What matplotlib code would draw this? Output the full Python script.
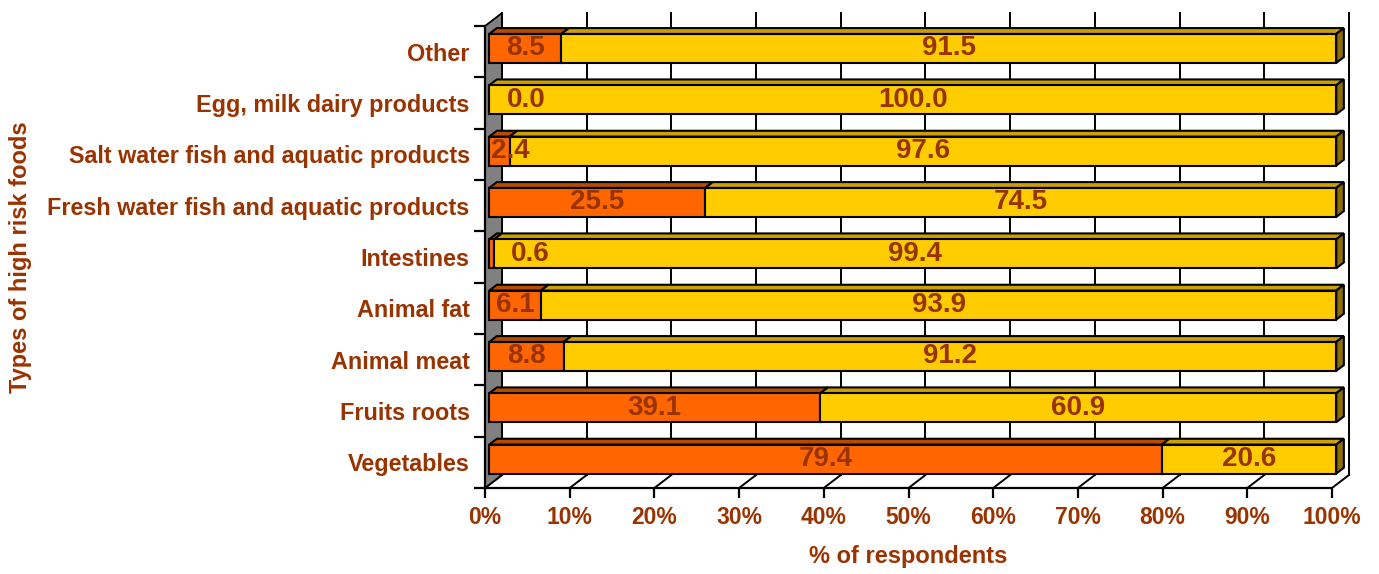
import numpy as np
import matplotlib
matplotlib.use("Agg")
import matplotlib.pyplot as plt
from matplotlib.patches import Polygon

# ---- data (bottom row first) ----
categories = ["Vegetables", "Fruits roots", "Animal meat", "Animal fat",
              "Intestines", "Fresh water fish and aquatic products",
              "Salt water fish and aquatic products", "Egg, milk dairy products",
              "Other"]
pct_yes = [79.4, 39.1, 8.8, 6.1, 0.6, 25.5, 2.4, 0.0, 8.5]
pct_no = [20.6, 60.9, 91.2, 93.9, 99.4, 74.5, 97.6, 100.0, 91.5]
x_ticks = list(range(0, 101, 10))
x_tick_labels = [f"{t}%" for t in x_ticks]

# ---- style ----
TXT = "#993300"
ORANGE = "#FF6600"
YELLOW = "#FFCC00"
TOP_COL = {ORANGE: "#B84A00", YELLOW: "#CCA000"}
SIDE_COL = {ORANGE: "#8F3A00", YELLOW: "#8A6E00"}
FONT = "Liberation Sans"

# 3d depth, in data units (~17px right, ~13px up)
DX = 2.0
DY = 0.253
F0, F1 = 0.25, 0.70   # bar front / back as fraction of depth
BAR_H = 0.565
LW = 1.5

# label nudges for tiny segments (row, segment) -> dx in %
label_nudge = {(7, 0): 4.4, (6, 0): 1.3, (4, 0): 4.5}

fig = plt.figure(figsize=(13.79, 5.74), dpi=100)
ax = fig.add_axes([485 / 1379, (574 - 488) / 574, 875 / 1379, 480 / 574])
ax.set_xlim(0, 875 / 8.47)
ax.set_ylim(-0.5, -0.5 + 480 / 51.33)
ax.set_facecolor("none")

ypos = np.arange(len(categories))
y_lo, y_hi = -0.5, len(categories) - 0.5

# floor diagonals + back wall gridlines
for t in x_ticks:
    ax.plot([t, t + DX], [y_lo, y_lo + DY], color="black", lw=1.4, zorder=1)
    ax.plot([t + DX, t + DX], [y_lo + DY, y_hi + DY], color="black", lw=1.4, zorder=1)

# left wall
wall = Polygon([(0, y_lo), (DX, y_lo + DY), (DX, y_hi + DY), (0, y_hi)],
               closed=True, facecolor="#808080", edgecolor="black", lw=1.3, zorder=2)
ax.add_patch(wall)

# bars
fx = F0 * DX
fy = F0 * DY
ddx = (F1 - F0) * DX
ddy = (F1 - F0) * DY
lefts = [np.zeros(len(categories)), np.array(pct_yes)]
series = [(np.array(pct_yes), ORANGE), (np.array(pct_no), YELLOW)]

for s, (vals, col) in enumerate(series):
    left = lefts[s]
    ax.barh(ypos + fy, vals, left=left + fx, height=BAR_H, color=col,
            edgecolor="black", lw=LW, zorder=4)
    for i, v in enumerate(vals):
        if v <= 0:
            continue
        x0 = left[i] + fx
        x1 = x0 + v
        yt = ypos[i] + fy + BAR_H / 2
        yb = ypos[i] + fy - BAR_H / 2
        top = Polygon([(x0, yt), (x1, yt), (x1 + ddx, yt + ddy), (x0 + ddx, yt + ddy)],
                      closed=True, facecolor=TOP_COL[col], edgecolor="black", lw=LW, zorder=3)
        ax.add_patch(top)
        if s == len(series) - 1:
            side = Polygon([(x1, yb), (x1 + ddx, yb + ddy), (x1 + ddx, yt + ddy), (x1, yt)],
                           closed=True, facecolor=SIDE_COL[col], edgecolor="black", lw=LW, zorder=3)
            ax.add_patch(side)

# value labels
for s, (vals, col) in enumerate(series):
    for i, v in enumerate(vals):
        xc = lefts[s][i] + v / 2 + fx + label_nudge.get((i, s), 0)
        ax.text(xc, ypos[i] + fy, f"{v:.1f}", ha="center", va="center",
                color=TXT, fontsize=20, fontweight="bold", family=FONT, zorder=6)

# axes
for sp in ["top", "right"]:
    ax.spines[sp].set_visible(False)
ax.spines["left"].set_position(("data", 0))
ax.spines["bottom"].set_position(("data", y_lo))
ax.spines["left"].set_bounds(y_lo, y_hi)
ax.spines["bottom"].set_bounds(0, 100)
for sp in ["left", "bottom"]:
    ax.spines[sp].set_linewidth(1.6)
    ax.spines[sp].set_zorder(5)

ax.set_xticks(x_ticks)
ax.set_xticklabels(x_tick_labels)
ax.tick_params(axis="x", length=7, width=1.6, pad=6, labelsize=16.5, labelcolor=TXT)

ax.set_yticks(ypos)
ax.set_yticklabels(categories)
ax.set_yticks(np.arange(y_lo, y_hi + 0.01, 1.0), minor=True)
ax.tick_params(axis="y", which="major", length=0, pad=11, labelsize=16.8, labelcolor=TXT)
ax.tick_params(axis="y", which="minor", length=8, width=1.6)

for lab in ax.get_xticklabels() + ax.get_yticklabels():
    lab.set_fontweight("bold")
    lab.set_family(FONT)

ax.set_xlabel("% of respondents", color=TXT, fontsize=17, fontweight="bold", family=FONT)
ax.xaxis.set_label_coords(50 / (875 / 8.47), -0.118)
ax.set_ylabel("Types of high risk foods", color=TXT, fontsize=17, fontweight="bold", family=FONT)
ax.yaxis.set_label_coords((32 - 485) / 875, 0.481)

fig.savefig("out.png", dpi=100)
